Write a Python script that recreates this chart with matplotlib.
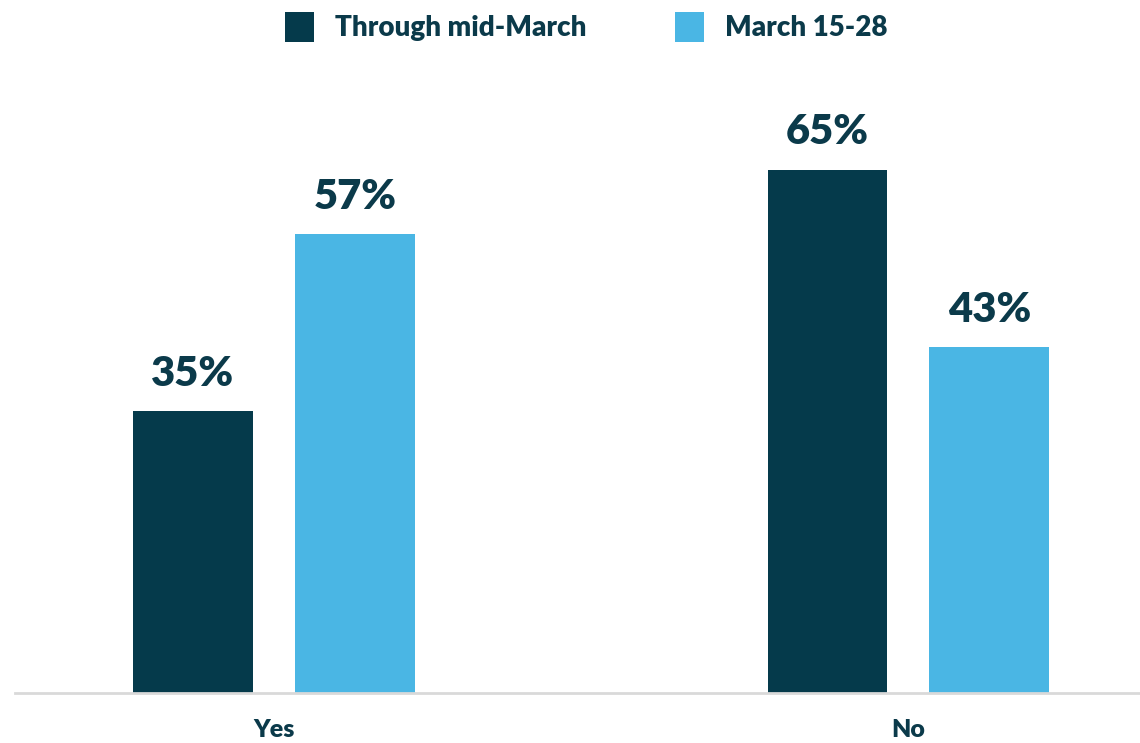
import matplotlib.pyplot as plt
import numpy as np

categories = ["Yes", "No"]
series_names = ["Through mid-March", "March 15-28"]
through_mid_march = [35, 65]
march_15_28 = [57, 43]

dark = "#053a4b"
light = "#4ab6e4"
text_color = "#0b3a4a"

plt.rcParams['font.family'] = ['Lato', 'DejaVu Sans']

fig = plt.figure(figsize=(11.4, 7.43), dpi=100)
ax = fig.add_axes([15/1140, 50/743, 1 - 15/1140, 593/743])

x = np.arange(len(categories))
width = 0.189
offset = 0.1275

bars1 = ax.bar(x - offset, through_mid_march, width, color=dark, label=series_names[0])
bars2 = ax.bar(x + offset, march_15_28, width, color=light, label=series_names[1])

for bars in (bars1, bars2):
    for b in bars:
        ax.text(b.get_x() + b.get_width()/2, b.get_height() + 2.3, f"{b.get_height():.0f}%",
                ha='center', va='bottom', fontsize=30, fontweight='heavy', color=text_color)

ax.set_xlim(-0.408, 1.365)
ax.set_ylim(0, 73.7)
ax.set_xticks(x)
ax.set_xticklabels(categories, fontsize=18, fontweight='heavy', color=text_color)
ax.tick_params(axis='x', length=0, pad=19)
ax.set_yticks([])
for s in ['top', 'right', 'left']:
    ax.spines[s].set_visible(False)
ax.spines['bottom'].set_color('#d9d9d9')
ax.spines['bottom'].set_linewidth(2)

leg = fig.legend(handles=[bars1, bars2], labels=series_names, loc='upper center',
                 bbox_to_anchor=(0.514, 1.018), ncol=2, frameon=False,
                 prop={'size': 20, 'weight': 'heavy'}, handlelength=1.05, handleheight=1.3,
                 handletextpad=0.75, columnspacing=3.2, labelcolor=text_color)

fig.savefig("out.png", dpi=100)
